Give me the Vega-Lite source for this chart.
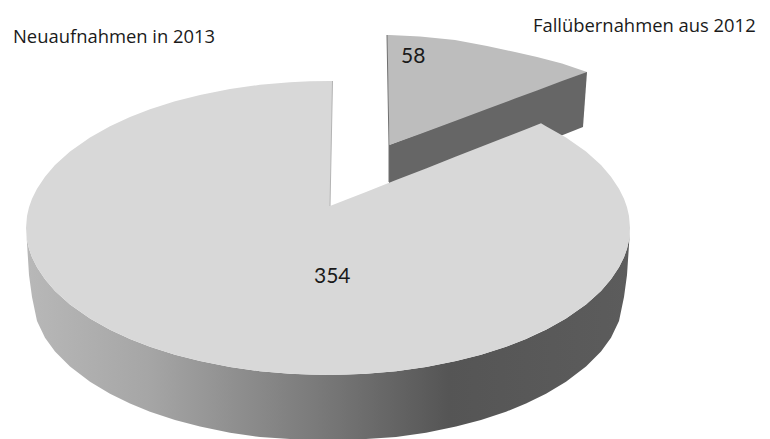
{
"$schema":"https://vega.github.io/schema/vega-lite/v6.json",
"width":770,"height":439,"padding":0,"autosize":{"type":"none"},
"background":"white",
"config":{"view":{"stroke":null}},
"datasets":{
"smallSide":[{"x":389,"y":145,"y2":204},{"x":583,"y":72,"y2":127},{"x":587,"y":72,"y2":72}],
"smallTop":[{"x":387,"y":35,"y2":35},{"x":389.5,"y":35,"y2":145},{"x":420,"y":36.5,"y2":134},{"x":455,"y":40,"y2":121},{"x":487,"y":46,"y2":109},{"x":515,"y":52,"y2":98.6},{"x":537,"y":57,"y2":90.5},{"x":562,"y":63.5,"y2":81},{"x":587,"y":72,"y2":72}],
"side":[{"x":26,"y":228,"y2":228},{"x":27,"y":240,"y2":243},{"x":29,"y":248.7,"y2":275},{"x":32,"y":257.2,"y2":297},{"x":37,"y":267.3,"y2":321},{"x":45,"y":279.3,"y2":337.8},{"x":55,"y":290.9,"y2":351.4},{"x":70,"y":304.4,"y2":366.6},{"x":90,"y":318.5,"y2":381.8},{"x":110,"y":329.7,"y2":393.8},{"x":130,"y":339,"y2":403.5},{"x":150,"y":346.8,"y2":411.7},{"x":175,"y":354.7,"y2":420},{"x":200,"y":361.1,"y2":426.6},{"x":230,"y":367,"y2":432.8},{"x":260,"y":371.2,"y2":437.1},{"x":290,"y":373.8,"y2":439},{"x":328,"y":375,"y2":439},{"x":366,"y":373.8,"y2":439},{"x":396,"y":371.2,"y2":437.1},{"x":426,"y":367,"y2":432.8},{"x":456,"y":361.1,"y2":426.6},{"x":481,"y":354.7,"y2":420},{"x":506,"y":346.8,"y2":411.7},{"x":526,"y":339,"y2":403.5},{"x":546,"y":329.7,"y2":393.8},{"x":566,"y":318.5,"y2":381.8},{"x":586,"y":304.4,"y2":366.6},{"x":601,"y":290.9,"y2":351.4},{"x":611,"y":279.3,"y2":337.8},{"x":619,"y":267.3,"y2":321},{"x":624,"y":257.2,"y2":297},{"x":627,"y":248.7,"y2":275},{"x":629,"y":240,"y2":245},{"x":630,"y":228,"y2":228}],
"faceLeft":[{"x":26,"y":228,"y2":228},{"x":27,"y":216,"y2":240},{"x":29,"y":207.3,"y2":248.7},{"x":32,"y":198.8,"y2":257.2},{"x":37,"y":188.7,"y2":267.3},{"x":45,"y":176.7,"y2":279.3},{"x":55,"y":165.1,"y2":290.9},{"x":70,"y":151.6,"y2":304.4},{"x":90,"y":137.5,"y2":318.5},{"x":110,"y":126.3,"y2":329.7},{"x":130,"y":117,"y2":339},{"x":150,"y":109.2,"y2":346.8},{"x":175,"y":101.3,"y2":354.7},{"x":200,"y":94.9,"y2":361.1},{"x":230,"y":89,"y2":367},{"x":260,"y":84.8,"y2":371.2},{"x":290,"y":82.2,"y2":373.8},{"x":310,"y":81.3,"y2":374.7},{"x":330,"y":81,"y2":375},{"x":330.01,"y":81,"y2":206},{"x":332.5,"y":81,"y2":81}],
"faceRight":[{"x":329.5,"y":206.2,"y2":375},{"x":330,"y":206,"y2":375},{"x":346,"y":199.7,"y2":374.7},{"x":366,"y":191.9,"y2":373.8},{"x":396,"y":180.1,"y2":371.2},{"x":426,"y":168.4,"y2":367},{"x":456,"y":156.6,"y2":361.1},{"x":481,"y":146.8,"y2":354.7},{"x":506,"y":137,"y2":346.8},{"x":526,"y":129.2,"y2":339},{"x":541,"y":123.3,"y2":331.5},{"x":546,"y":126.3,"y2":329.7},{"x":566,"y":137.5,"y2":318.5},{"x":586,"y":151.6,"y2":304.4},{"x":601,"y":165.1,"y2":290.9},{"x":611,"y":176.7,"y2":279.3},{"x":619,"y":188.7,"y2":267.3},{"x":624,"y":198.8,"y2":257.2},{"x":627,"y":207.3,"y2":248.7},{"x":629,"y":216,"y2":240},{"x":630,"y":228,"y2":228}],
"mainEdge":[{"x":332.5,"y":81},{"x":330,"y":206}],
"smallEdge":[{"x":387,"y":35},{"x":389,"y":145},{"x":389,"y":182}],
"labels":[{"x":13,"y":37,"label":"Neuaufnahmen in 2013"},{"x":533,"y":25.5,"label":"Fallübernahmen aus 2012"}],
"values":[{"x":401,"y":56.5,"label":"58"},{"x":314,"y":277,"label":"354"}]
},
"encoding":{
"x":{"field":"x","type":"quantitative","axis":null,"scale":{"domain":[0,770],"nice":false,"zero":false}},
"y":{"field":"y","type":"quantitative","axis":null,"scale":{"domain":[439,0],"nice":false,"zero":false}}
},
"layer":[
{"data":{"name":"smallSide"},"mark":{"type":"area","fill":"#666666"},"encoding":{"y2":{"field":"y2"}}},
{"data":{"name":"smallTop"},"mark":{"type":"area","fill":"#bdbdbd"},"encoding":{"y2":{"field":"y2"}}},
{"data":{"name":"smallEdge"},"mark":{"type":"line","stroke":"#6e6e6e","strokeWidth":1,"orient":"vertical"},"encoding":{"order":{"field":"y"}}},
{"data":{"name":"side"},"mark":{"type":"area","fill":{"x1":0,"y1":0,"x2":1,"y2":0,"gradient":"linear","stops":[{"offset":0,"color":"#b8b8b8"},{"offset":0.2,"color":"#a6a6a6"},{"offset":0.5,"color":"#777777"},{"offset":0.7,"color":"#555555"},{"offset":1,"color":"#5c5c5c"}]}},"encoding":{"y2":{"field":"y2"}}},
{"data":{"name":"faceLeft"},"mark":{"type":"area","fill":"#d8d8d8"},"encoding":{"y2":{"field":"y2"}}},
{"data":{"name":"faceRight"},"mark":{"type":"area","fill":"#d8d8d8"},"encoding":{"y2":{"field":"y2"}}},
{"data":{"name":"mainEdge"},"mark":{"type":"line","stroke":"#b4b4b4","strokeWidth":1,"orient":"vertical"},"encoding":{"order":{"field":"y"}}},
{"data":{"name":"labels"},"mark":{"type":"text","align":"left","baseline":"middle","font":"Open Sans","fontSize":18.4,"fill":"#1a1a1a"},"encoding":{"text":{"field":"label"}}},
{"data":{"name":"values"},"mark":{"type":"text","align":"left","baseline":"middle","font":"Lato","fontSize":21,"fill":"#1a1a1a"},"encoding":{"text":{"field":"label"}}}
]
}
